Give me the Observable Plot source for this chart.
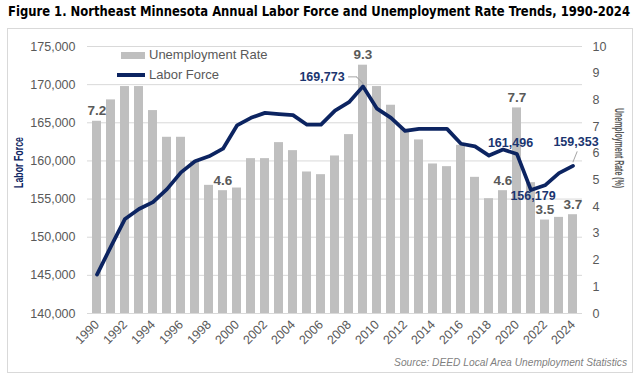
<!DOCTYPE html>
<html>
<head>
<meta charset="utf-8">
<script src="https://cdn.jsdelivr.net/npm/d3@7"></script>
<script src="https://cdn.jsdelivr.net/npm/@observablehq/plot@0.6"></script>
<style>
  html, body { margin: 0; padding: 0; background: #fff; }
  #wrap { position: relative; width: 637px; height: 379px; overflow: hidden; font-family: "Liberation Sans", Arial, sans-serif; }
  #title { position: absolute; left: 8px; top: 3px; white-space: nowrap; font-family: "Liberation Sans Narrow", "DejaVu Sans Condensed", "Liberation Sans", sans-serif; font-weight: bold; font-size: 14px; color: #000; transform-origin: 0 0; }
  #box { position: absolute; left: 7px; top: 28px; width: 624px; height: 343px; border: 1px solid #D9D9D9; }
  #chart { position: absolute; left: 0; top: 0; }
  .leg { position: absolute; font-size: 13px; color: #595959; white-space: nowrap; }
  .sw { position: absolute; }
  #source { position: absolute; right: 10px; top: 357px; font-size: 10px; font-style: italic; color: #7F7F7F; white-space: nowrap; }
</style>
</head>
<body>
<div id="wrap">
  <div id="box"></div>
  <div id="chart"></div>
  <div id="title">Figure 1. Northeast Minnesota Annual Labor Force and Unemployment Rate Trends, 1990-2024</div>
  <div class="sw" style="left:121px; top:52px; width:24px; height:7px; background:#BFBFBF;"></div>
  <div class="leg" style="left:149px; top:47px;">Unemployment Rate</div>
  <div class="sw" style="left:117px; top:73px; width:28px; height:3.5px; background:#0C2461;"></div>
  <div class="leg" style="left:149px; top:67px;">Labor Force</div>
  <div id="source">Source: DEED Local Area Unemployment Statistics</div>
</div>
<script>
// ---- data ----
const years = [1990,1991,1992,1993,1994,1995,1996,1997,1998,1999,
               2000,2001,2002,2003,2004,2005,2006,2007,2008,2009,
               2010,2011,2012,2013,2014,2015,2016,2017,2018,2019,
               2020,2021,2022,2023,2024];
const unemploymentRate = [7.2,8.0,8.5,8.5,7.6,6.6,6.6,5.7,4.8,4.6,
                          4.7,5.8,5.8,6.4,6.1,5.3,5.2,5.9,6.7,9.3,
                          8.5,7.8,6.9,6.5,5.6,5.5,6.3,5.1,4.3,4.6,
                          7.7,4.9,3.5,3.6,3.7];
const laborForce = [145100,148800,152400,153700,154600,156300,158500,159950,160600,161600,
                    164650,165650,166300,166150,166000,164750,164750,166600,167700,169773,
                    166850,165650,163950,164200,164200,164200,162250,161900,160700,161496,
                    160900,156179,156800,158400,159353];
const rateLabelYears = [1990,1999,2009,2019,2020,2022,2024];
const leftTicks = [140000,145000,150000,155000,160000,165000,170000,175000];
const rightTicks = [0,1,2,3,4,5,6,7,8,9,10];
const xTickYears = years.filter(y => y % 2 === 0);
const leftTitle = ["Labor Force"];
const rightTitle = ["Unemployment Rate (%)"];

const rows = years.map((y, i) => ({year: y, rate: unemploymentRate[i], lf: laborForce[i]}));

const navy = "#0C2461";
const labelNavy = "#1B3570";
const gray = "#595959";
const leaderGray = "#A6A6A6";

// secondary (rate) axis mapped onto the primary labor-force scale
const y2 = d3.scaleLinear([0, 10], [140000, 175000]);

const segment = {draw(context, l) { context.moveTo(0, 0); context.lineTo(0, -l); }};

const W = 637, H = 379;
const chart = Plot.plot({
  width: W, height: H,
  marginLeft: 87, marginRight: 55, marginTop: 46, marginBottom: 66,
  style: {fontFamily: "'Liberation Sans', Arial, sans-serif", background: "transparent"},
  x: {type: "band", domain: years, paddingInner: 0.36, paddingOuter: 0.18, label: null},
  y: {domain: [140000, 175000], label: null},
  marks: [
    Plot.gridY(leftTicks, {stroke: "#D9D9D9", strokeOpacity: 1, strokeWidth: 1}),
    Plot.barY(rows, {x: "year", y1: 140000, y2: d => y2(d.rate), fill: "#BFBFBF"}),
    Plot.axisY(leftTicks, {anchor: "left", tickSize: 0, tickPadding: 12, tickFormat: d3.format(","), fontSize: 12.5, fill: gray, label: null}),
    Plot.axisY(rightTicks, {anchor: "right", y: y2, tickSize: 0, tickPadding: 10, tickFormat: d => String(d), fontSize: 12.5, fill: gray, label: null}),
    Plot.axisX(xTickYears, {tickSize: 0, tickRotate: -45, tickPadding: 9, tickFormat: d => String(d), fontSize: 12.5, fill: gray, label: null}),
    Plot.text(rows.filter(d => rateLabelYears.includes(d.year)), {
      x: "year", y: d => y2(d.rate), text: d => d.rate.toFixed(1),
      dy: -6, lineAnchor: "bottom", fontWeight: "bold", fontSize: 13.5, fill: gray
    }),
    Plot.line(rows, {x: "year", y: "lf", stroke: navy, strokeWidth: 3.75, strokeLinejoin: "round", strokeLinecap: "round"}),
    // leader lines
    Plot.vector(rows.filter(d => d.year === 2009), {x: "year", y: "lf", anchor: "start", length: 9, rotate: -45, dy: -3, shape: segment, stroke: leaderGray, strokeWidth: 1}),
    Plot.vector(rows.filter(d => d.year === 2009), {x: "year", y: "lf", anchor: "start", length: 8, rotate: -90, dx: -6.5, dy: -9.5, shape: segment, stroke: leaderGray, strokeWidth: 1}),
    Plot.vector(rows.filter(d => d.year === 2024), {x: "year", y: "lf", anchor: "start", length: 11, rotate: 22, dy: -4, shape: segment, stroke: leaderGray, strokeWidth: 1}),
    Plot.text(rows.filter(d => d.year === 2009), {x: "year", y: "lf", text: d => d3.format(",")(d.lf), dx: -41, dy: -9, fontWeight: "bold", fontSize: 12.5, fill: labelNavy}),
    Plot.text(rows.filter(d => d.year === 2019), {x: "year", y: "lf", text: d => d3.format(",")(d.lf), dx: 7.5, dy: -7, fontWeight: "bold", fontSize: 12.5, fill: labelNavy}),
    Plot.text(rows.filter(d => d.year === 2021), {x: "year", y: "lf", text: d => d3.format(",")(d.lf), dx: 2, dy: 6, fontWeight: "bold", fontSize: 12.5, fill: labelNavy}),
    Plot.text(rows.filter(d => d.year === 2024), {x: "year", y: "lf", text: d => d3.format(",")(d.lf), dx: 3, dy: -24, fontWeight: "bold", fontSize: 12.5, fill: labelNavy}),
    Plot.text(leftTitle, {frameAnchor: "top-left", dx: -69, dy: 116, rotate: -90, textAnchor: "middle", lineAnchor: "middle", fontWeight: "bold", fontSize: 12.5, fill: navy}),
    Plot.text(rightTitle, {frameAnchor: "top-right", dx: 36, dy: 101.5, rotate: 90, textAnchor: "middle", lineAnchor: "middle", fontWeight: "bold", fontSize: 12.5, fill: gray})
  ]
});
document.getElementById("chart").appendChild(chart);

// fit narrow-font text to the reference widths
function fitText(content, len) {
  chart.querySelectorAll("text").forEach(t => {
    if (t.textContent === content) {
      t.setAttribute("textLength", len);
      t.setAttribute("lengthAdjust", "spacingAndGlyphs");
    }
  });
}
fitText("Labor Force", 51);
fitText("Unemployment Rate (%)", 80);

const title = document.getElementById("title");
const tw = title.getBoundingClientRect().width;
title.style.transform = `scaleX(${622 / tw})`;
const src = document.getElementById("source");
const sw = src.getBoundingClientRect().width;
src.style.transformOrigin = "100% 50%";
src.style.transform = `scaleX(${233 / sw})`;
</script>
</body>
</html>
